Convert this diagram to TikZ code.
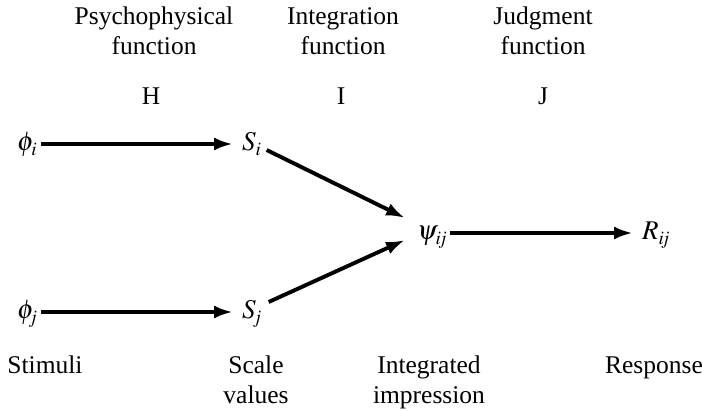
\documentclass[tikz,border=0pt]{standalone}
\usepackage{mathptmx}
\usepackage{fontspec}
\setmainfont{Liberation Serif}
\DeclareMathSizes{25.5}{27}{19}{15}
\usetikzlibrary{arrows.meta}
\begin{document}
\begin{tikzpicture}[x=1pt,y=1pt,
  lbl/.style={font=\fontsize{25.5}{30}\selectfont, inner sep=0pt, align=center, anchor=base},
  sym/.style={font=\fontsize{25.5}{30}\selectfont, inner sep=0pt, anchor=base west},
  arr/.style={line width=3.9pt, -{Latex[length=19pt,width=13pt]}}]
\useasboundingbox (0,0) rectangle (702,410);
% column headings (base = last line)
\node[lbl] (f1) at (154,355) {Psychophysical\\function};
\node[lbl] (f2) at (343,355) {Integration\\function};
\node[lbl] (f3) at (543,355) {Judgment\\function};
\node[lbl] (h) at (151,305) {H};
\node[lbl] (ii) at (341,305) {I};
\node[lbl] (jj) at (543,305) {J};
% symbols
\node[sym] (phii) at (17,259) {$\phi_{\mathit{i}}$};
\node[sym] (si) at (242,259) {$S_{\mathit{i}}$};
\node[sym] (phij) at (17,91) {$\phi_{\mathit{j}}$};
\node[sym] (sj) at (242,91) {$S_{\mathit{j}}$};
\node[sym] (psi) at (417,170) {$\psi_{\mathit{ij}}$};
\node[sym] (rij) at (642,170) {$R_{\mathit{ij}}$};
% connectors
\draw[arr] ([xshift=4pt,yshift=7pt]phii.base east) -- ([xshift=-9pt,yshift=7pt]si.base west);
\draw[arr] ([xshift=4pt,yshift=7pt]phij.base east) -- ([xshift=-9pt,yshift=7pt]sj.base west);
\draw[arr] ([xshift=5pt,yshift=1pt]si.base east) -- ([xshift=-12pt,yshift=22pt]psi.base west);
\draw[arr] ([xshift=7pt,yshift=17pt]sj.base east) -- ([xshift=-12pt,yshift=0pt]psi.base west);
\draw[arr] ([xshift=3pt,yshift=7pt]psi.base east) -- ([xshift=-9pt,yshift=7pt]rij.base west);
% bottom labels
\node[lbl] (stim) at (45,36) {Stimuli};
\node[lbl] (scale) at (256,6) {Scale\\values};
\node[lbl] (integ) at (429,6) {Integrated\\impression};
\node[lbl] (resp) at (654,36) {Response};
\end{tikzpicture}
\end{document}
